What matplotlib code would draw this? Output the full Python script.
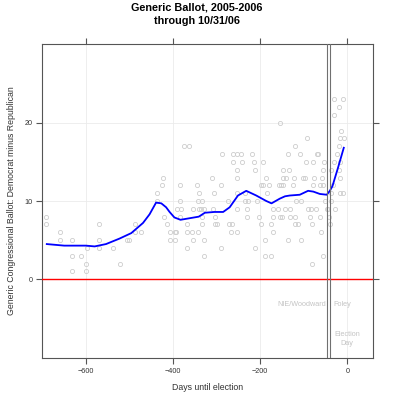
import matplotlib
matplotlib.use('Agg')
import matplotlib.pyplot as plt

# poll results: days until election, Dem minus Rep margin
poll_days = [-692, -692, -660, -660, -632, -632, -632, -612, -600, -600, -598,
             -571, -571, -571, -537, -523, -506, -502, -487, -487, -473,
             -437, -437, -426, -424, -421, -415, -406, -396, -406, -396, -391,
             -374, -364, -288, -262, -254, -243, -218,
             -262, -241, -214, -254, -212, -254, -310,
             -384, -344, -289, -199, -193,
             -341, -306, -253, -235, -185,
             -383, -343, -333, -274, -235, -228, -208,
             -381, -354, -341, -337, -330, -308, -254, -230,
             -384, -333, -304, -230, -202,
             -367, -333, -304, -299, -271, -264, -199,
             -394, -367, -356, -343, -268, -253,
             -354, -328, -367, -289, -212, -328,
             -31, -10, -18, -31, -155, -14, -16, -8, -93, -18, -119,
             -24, -137, -109, -69, -67,
             -193, -94, -78, -54, -31, -17,
             -147, -134, -55, -38, -19,
             -186, -147, -140, -122, -101, -96, -77, -57, -17,
             -180, -157, -153, -147, -124, -78, -63, -55, -32,
             -17, -10, -38,
             -118, -107, -51, -38,
             -170, -159, -143, -132, -90, -84, -71, -47, -45, -28,
             -170, -155, -150, -132, -120, -86, -63, -42,
             -176, -119, -114, -80, -40,
             -171, -60,
             -189, -137, -107,
             -189, -174, -55, -80]
poll_margin = [8, 7, 6, 5, 5, 3, 1, 3, 2, 1, 4,
               7, 5, 4, 4, 2, 5, 5, 7, 6, 6,
               11, 10, 12, 13, 8, 7, 6, 6, 5, 5, 9,
               17, 17, 16, 16, 16, 16, 16,
               15, 15, 15, 14, 14, 13, 13,
               12, 12, 12, 12, 12,
               11, 11, 11, 11, 11,
               10, 10, 10, 10, 10, 10, 10,
               9, 9, 9, 9, 9, 9, 9, 9,
               8, 8, 8, 8, 8,
               7, 7, 7, 7, 7, 7, 7,
               6, 6, 6, 6, 6, 6,
               5, 5, 4, 4, 4, 3,
               23, 23, 22, 21, 20, 19, 18, 18, 18, 17, 17,
               16, 16, 16, 16, 16,
               15, 15, 15, 15, 15, 15,
               14, 14, 14, 14, 14,
               13, 13, 13, 13, 13, 13, 13, 13, 13,
               12, 12, 12, 12, 12, 12, 12, 12, 12,
               11, 11, 11,
               10, 10, 10, 10,
               9, 9, 9, 9, 9, 9, 9, 9, 9, 9,
               8, 8, 8, 8, 8, 8, 8, 8,
               7, 7, 7, 7, 7,
               6, 6,
               5, 5, 5,
               3, 3, 3, 2]

# smoothed trend line
trend_days = [-690, -650, -600, -580, -554, -523, -496, -469, -454, -439, -427,
              -416, -408, -397, -383, -362, -341, -327, -305, -285, -270, -251,
              -232, -209, -186, -174, -155, -143, -132, -109, -90, -78, -63,
              -47, -40, -34, -21, -8]
trend_margin = [4.5, 4.3, 4.3, 4.2, 4.5, 5.2, 5.9, 7.2, 8.3, 9.8, 9.7,
                9.2, 8.6, 7.9, 7.6, 7.8, 8.0, 8.5, 8.6, 8.6, 9.2, 10.7,
                11.3, 10.7, 10.0, 9.7, 10.3, 10.6, 10.7, 10.8, 11.3, 11.2, 10.9,
                10.8, 11.3, 11.9, 14.3, 16.8]

event_days = [-45.5, -40.3]
x_ticks = [-600, -400, -200, 0]
y_ticks = [0, 10, 20]

plt.rcParams['font.family'] = ['Liberation Sans', 'DejaVu Sans']

fig = plt.figure(figsize=(3.94, 4.0), dpi=100)
ax = fig.add_axes([0.1066, 0.105, 0.84, 0.785])

ax.set_xlim(-701, 59)
ax.set_ylim(-10.05, 30.05)

for xt in x_ticks:
    ax.axvline(xt, color='#ebebeb', lw=0.6, zorder=0)
for yt in y_ticks[1:]:
    ax.axhline(yt, color='#ebebeb', lw=0.6, zorder=0)

ax.plot(poll_days, poll_margin, 'o', ms=3, mfc='none', mec='#cdcdcd', mew=0.6, zorder=2)
ax.plot(trend_days, trend_margin, color='#0000ff', lw=1.3, zorder=3)
ax.axhline(0, color='#ff0000', lw=1.0, zorder=3)
for d in event_days:
    ax.axvline(d, color='#707070', lw=0.8, zorder=4)

ax.text(-48, -3.2, 'NIE/Woodward', ha='right', va='center', fontsize=5.2, color='#c4c4c4')
ax.text(-31, -3.2, 'Foley', ha='left', va='center', fontsize=5.2, color='#c4c4c4')
ax.text(-1, -7.6, 'Election\nDay', ha='center', va='center', fontsize=5.2, color='#c4c4c4',
        linespacing=1.3)

ax.set_xticks(x_ticks)
ax.set_yticks(y_ticks)
ax.tick_params(direction='out', length=4, width=0.8, color='#555555', labelsize=5.2,
               labelcolor='#333333', top=True, right=True, pad=3)
for s in ax.spines.values():
    s.set_color('#555555')
    s.set_linewidth(0.8)

ax.set_xlabel('Days until election', fontsize=6.3, color='#333333', labelpad=6)
ax.set_ylabel('Generic Congressional Ballot: Democrat minus Republican', fontsize=6.3,
              color='#333333', labelpad=6)
fig.suptitle('Generic Ballot, 2005-2006\nthrough 10/31/06', fontsize=7.8, fontweight='bold',
             y=0.993, linespacing=1.35)

fig.savefig('out.png', dpi=100)
